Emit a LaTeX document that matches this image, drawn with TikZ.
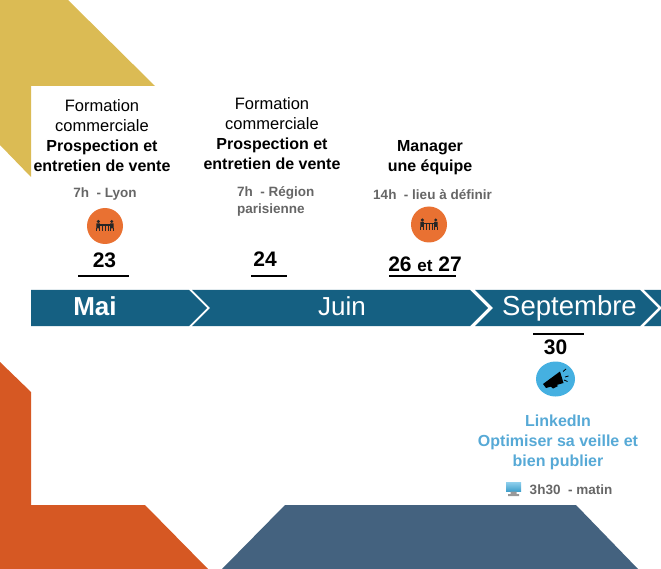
\documentclass[tikz,border=0pt]{standalone}
\usepackage{fontspec}
\setmainfont{Liberation Sans}
\usetikzlibrary{shapes.geometric}
\definecolor{gold}{HTML}{DBBB54}
\definecolor{rust}{HTML}{D65823}
\definecolor{slate}{HTML}{44627F}
\definecolor{band}{HTML}{156082}
\definecolor{disc}{HTML}{E97132}
\definecolor{sky}{HTML}{45B0E1}
\definecolor{skytext}{HTML}{56A9D6}
\definecolor{lieu}{HTML}{666666}
\tikzset{
x=1pt,y=-1pt,
course/.style={align=center,inner sep=0pt,font=\fontsize{16.5}{20}\selectfont},
coursebold/.style={align=center,inner sep=0pt,font=\fontsize{16}{20}\selectfont\bfseries},
lieutext/.style={align=center,inner sep=0pt,text=lieu,font=\fontsize{13.5}{17}\selectfont\bfseries},
datetext/.style={inner sep=0pt,font=\fontsize{21}{22}\selectfont\bfseries},
month/.style={anchor=base,inner sep=0pt,text=white,font=\fontsize{26}{28}\selectfont},
dateline/.style={line width=1.6pt},
meeting/.pic={
\fill[black!85] (-6.7,-4.5) circle (1.7) (6.7,-4.5) circle (1.7);
\fill[black!85] (-8.7,-2.5) rectangle (-5.2,2.5) (5.2,-2.5) rectangle (8.7,2.5);
\fill[black!85] (-5,-1.5) rectangle (5,0);
\draw[black!85,line width=.8pt] (-3,0) -- (-3,5.5) (3,0) -- (3,5.5) (0,0) -- (0,5.5)
(-8.7,2.5) -- (-8.7,5.5) (-5.2,2.5) -- (-5.2,5.5) (5.2,2.5) -- (5.2,5.5) (8.7,2.5) -- (8.7,5.5);
},
}
\begin{document}
\begin{tikzpicture}
\useasboundingbox (0,0) rectangle (661,569);
\fill[gold] (0,0) -- (68,0) -- (155,86) -- (31,86) -- (31,177) -- (0,145) -- cycle;
\fill[rust] (0,362) -- (31,392) -- (31,505) -- (145,505) -- (208,569) -- (0,569) -- cycle;
\fill[slate] (285,505) -- (576,505) -- (638,569) -- (222,569) -- cycle;
\fill[band] (31,290) -- (189,290) -- (207,308) -- (189,326) -- (31,326) -- cycle;
\fill[band] (192,290) -- (470,290) -- (488,308) -- (470,326) -- (192,326) -- (210,308) -- cycle;
\fill[band] (475,290) -- (640,290) -- (658,308) -- (640,326) -- (475,326) -- (493,308) -- cycle;
\fill[band] (644,290) -- (661,290) -- (661,326) -- (644,326) -- (662,308) -- cycle;
\node[month,font=\fontsize{26}{28}\selectfont\bfseries] (mai) at (95,315) {Mai};
\node[month] (juin) at (342,315) {Juin};
\node[month,font=\fontsize{27.5}{28}\selectfont] (septembre) at (569.5,315) {Septembre};
\node[course] (lyon) at (102,136) {Formation\\commerciale\\{\fontsize{16}{20}\selectfont\bfseries Prospection et}\\{\fontsize{16}{20}\selectfont\bfseries entretien de vente}};
\node[course] (paris) at (272,134) {Formation\\commerciale\\{\fontsize{16}{20}\selectfont\bfseries Prospection et}\\{\fontsize{16}{20}\selectfont\bfseries entretien de vente}};
\node[coursebold] (manager) at (430,158) {Manager\\une équipe};
\node[coursebold,text=skytext] (linkedin) at (558,442) {LinkedIn\\Optimiser sa veille et\\bien publier};
\node[lieutext] (lieulyon) at (105,194.5) {7h\ \ - Lyon};
\node[lieutext,align=left,anchor=west] (lieuparis) at (237,201.5) {7h\ \ - Région\\parisienne};
\node[lieutext] (lieumanager) at (432.5,195) {14h\ \ - lieu à définir};
\node[lieutext] (lieulinkedin) at (571,490) {3h30\ \ - matin};
\node[circle,fill=disc,minimum size=36pt,inner sep=0pt] (disclyon) at (105,226) {};
\node[circle,fill=disc,minimum size=36pt,inner sep=0pt] (discmanager) at (429,224.5) {};
\node[ellipse,fill=sky,minimum width=39pt,minimum height=35pt,inner sep=0pt] (disclinkedin) at (555.5,379) {};
\pic at (disclyon) {meeting};
\pic at (discmanager) {meeting};
\fill[black] (543,384) -- (560,371.5) -- (563.5,383) -- (546,388) -- cycle;
\fill[black] (550,386) -- (553,388.5) -- (558,386) -- (556,384.5) -- cycle;
\draw[black,line width=.8pt] (563,371.5) -- (566,369) (565,377) -- (568.5,376) (564,380) -- (567.5,381.5);
\shade[top color=sky!60,bottom color=sky!90!black] (506,482) rectangle (521,491.5);
\fill[black!40] (510.5,491.5) rectangle (516.5,494) (508,494) rectangle (519,496);
\node[datetext] (d23) at (104.5,260.5) {23};
\node[datetext] (d24) at (265,259.5) {24};
\node[datetext] (d26) at (425,264.5) {26 {\fontsize{17}{20}\selectfont et} 27};
\node[datetext] (d30) at (555.5,347.5) {30};
\coordinate (u23a) at (78,276);
\coordinate (u23b) at (129,276);
\coordinate (u24a) at (251,276);
\coordinate (u24b) at (287,276);
\coordinate (u26a) at (389,276);
\coordinate (u26b) at (456,276);
\coordinate (u30a) at (533,334);
\coordinate (u30b) at (584,334);
\draw[dateline] (u23a) -- (u23b);
\draw[dateline] (u24a) -- (u24b);
\draw[dateline] (u26a) -- (u26b);
\draw[dateline] (u30a) -- (u30b);
\end{tikzpicture}
\end{document}
